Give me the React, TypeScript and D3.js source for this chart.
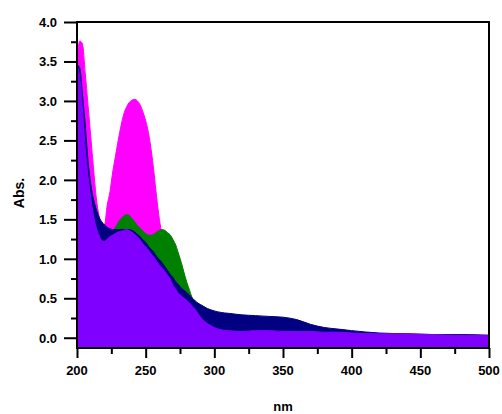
import React, { useEffect } from "react";
import * as d3 from "d3";

// wavelength grid (nm)
const wavelengths = [
  200, 202, 204, 206, 208, 210, 212, 214, 216, 218, 220, 222, 224, 226, 228, 230,
  232, 234, 236, 238, 240, 242, 244, 246, 248, 250, 252, 254, 256, 258, 260, 262,
  264, 266, 268, 270, 272, 274, 276, 278, 280, 282, 284, 286, 288, 290, 295, 300,
  305, 310, 320, 330, 340, 350, 360, 370, 380, 390, 400, 420, 440, 460, 480, 500,
];

const magentaAbs = [
  3.52, 3.76, 3.72, 3.35, 2.95, 2.55, 2.15, 1.78, 1.55, 1.45, 1.43, 1.68, 1.85, 2.1, 2.3, 2.5,
  2.68, 2.83, 2.92, 2.98, 3.01, 3.02, 3.0, 2.95, 2.86, 2.75, 2.6, 2.38, 2.1, 1.78, 1.5, 1.3,
  1.15, 1.0, 0.85, 0.72, 0.62, 0.54, 0.48, 0.42, 0.38, 0.34, 0.31, 0.28, 0.26, 0.24, 0.21, 0.18,
  0.16, 0.14, 0.12, 0.1, 0.09, 0.08, 0.07, 0.07, 0.06, 0.06, 0.05, 0.04, 0.04, 0.03, 0.03, 0.03,
];

const greenAbs = [
  2.9, 2.8, 2.55, 2.2, 1.9, 1.68, 1.5, 1.4, 1.33, 1.3, 1.3, 1.31, 1.33, 1.36, 1.4, 1.46,
  1.51, 1.54, 1.56, 1.55, 1.51, 1.47, 1.42, 1.39, 1.35, 1.32, 1.3, 1.3, 1.31, 1.34, 1.36, 1.37,
  1.36, 1.33, 1.3, 1.24, 1.17, 1.06, 0.95, 0.82, 0.7, 0.6, 0.5, 0.44, 0.4, 0.37, 0.32, 0.28,
  0.25, 0.22, 0.18, 0.15, 0.13, 0.12, 0.11, 0.1, 0.09, 0.08, 0.07, 0.05, 0.04, 0.04, 0.03, 0.03,
];

const navyAbs = [
  3.46, 3.42, 3.08, 2.7, 2.25, 1.95, 1.76, 1.63, 1.53, 1.47, 1.43, 1.4, 1.38, 1.37, 1.37, 1.37,
  1.37, 1.37, 1.37, 1.37, 1.36, 1.34, 1.31, 1.28, 1.24, 1.21, 1.16, 1.12, 1.08, 1.03, 0.99, 0.95,
  0.9, 0.85, 0.8, 0.76, 0.71, 0.67, 0.63, 0.6, 0.57, 0.54, 0.5, 0.47, 0.44, 0.42, 0.37, 0.34,
  0.32, 0.31, 0.29, 0.28, 0.27, 0.26, 0.23, 0.17, 0.13, 0.11, 0.09, 0.06, 0.05, 0.04, 0.04, 0.03,
];

const purpleAbs = [
  3.45, 3.3, 2.9, 2.4, 2.05, 1.78, 1.55, 1.4, 1.3, 1.23, 1.22, 1.25, 1.28, 1.3, 1.32, 1.34,
  1.35, 1.36, 1.37, 1.36, 1.34, 1.31, 1.28, 1.24, 1.19, 1.15, 1.11, 1.06, 1.02, 0.97, 0.92, 0.88,
  0.84, 0.79, 0.74, 0.66, 0.61, 0.56, 0.53, 0.5, 0.47, 0.44, 0.4, 0.36, 0.31, 0.26, 0.18, 0.13,
  0.1, 0.09, 0.08, 0.09, 0.09, 0.08, 0.08, 0.08, 0.07, 0.07, 0.06, 0.05, 0.05, 0.04, 0.03, 0.03,
];

// back to front
const series = [
  { name: "magenta", color: "#ff00ff", values: magentaAbs },
  { name: "green", color: "#008000", values: greenAbs },
  { name: "navy", color: "#000080", values: navyAbs },
  { name: "purple", color: "#8000ff", values: purpleAbs },
];

const xTicks = [200, 250, 300, 350, 400, 450, 500];
const yTicks = [0, 0.5, 1.0, 1.5, 2.0, 2.5, 3.0, 3.5, 4.0];

const App = () => {
  useEffect(() => {
    d3.select("#abs-chart svg").remove();

    const svg = d3
      .select("#abs-chart")
      .append("svg")
      .attr("width", 502)
      .attr("height", 414)
      .style("display", "block")
      .style("font-family", "'Liberation Sans', Arial, sans-serif");

    const left = 77;
    const right = 489;
    const top = 22;
    const bottom = 348;

    const xScale = d3.scaleLinear().domain([200, 500]).range([left, right]);
    const yScale = d3.scaleLinear().domain([-0.13, 4.0]).range([bottom, top]);

    const area = d3
      .area<number>()
      .x((d, i) => xScale(wavelengths[i]))
      .y0(bottom)
      .y1((d) => yScale(d))
      .curve(d3.curveMonotoneX);

    // filled spectra
    series.forEach((s) => {
      svg
        .append("path")
        .datum(s.values)
        .attr("fill", s.color)
        .attr("stroke", s.color)
        .attr("stroke-width", 1)
        .attr("d", area);
    });

    // x axis (major + minor ticks)
    const xAxis = svg
      .append("g")
      .attr("transform", `translate(0, ${bottom})`)
      .call(
        d3
          .axisBottom(xScale)
          .tickValues(d3.range(200, 501, 25))
          .tickSize(6)
          .tickFormat(() => "")
      );
    xAxis.selectAll(".tick line").filter((d: any) => d % 50 === 0).attr("y2", 10);
    xAxis.select(".domain").remove();

    svg
      .selectAll(".x-label")
      .data(xTicks)
      .enter()
      .append("text")
      .attr("class", "x-label")
      .attr("x", (d) => xScale(d))
      .attr("y", 375)
      .attr("text-anchor", "middle")
      .style("font-size", "13px")
      .style("font-weight", "bold")
      .text((d) => d);

    // y axis (major + minor ticks)
    const yAxis = svg
      .append("g")
      .attr("transform", `translate(${left}, 0)`)
      .call(
        d3
          .axisLeft(yScale)
          .tickValues(d3.range(0, 4.01, 0.25))
          .tickSize(6)
          .tickFormat(() => "")
      );
    yAxis
      .selectAll(".tick line")
      .filter((d: any) => Math.abs((d * 2) % 1) < 1e-6)
      .attr("x2", -13);
    yAxis.select(".domain").remove();

    svg
      .selectAll(".y-label")
      .data(yTicks)
      .enter()
      .append("text")
      .attr("class", "y-label")
      .attr("x", 57)
      .attr("y", (d) => yScale(d) + 5)
      .attr("text-anchor", "end")
      .style("font-size", "13px")
      .style("font-weight", "bold")
      .text((d) => d.toFixed(1));

    svg.selectAll(".tick line").attr("stroke", "#000").attr("stroke-width", 2);

    // frame
    svg
      .append("rect")
      .attr("x", left)
      .attr("y", top)
      .attr("width", right - left)
      .attr("height", bottom - top)
      .attr("fill", "none")
      .attr("stroke", "#000")
      .attr("stroke-width", 2);

    // axis titles
    svg
      .append("text")
      .attr("transform", `translate(24, 193) rotate(-90)`)
      .attr("text-anchor", "middle")
      .style("font-size", "14px")
      .style("font-weight", "bold")
      .text("Abs.");

    svg
      .append("text")
      .attr("x", (left + right) / 2)
      .attr("y", 411)
      .attr("text-anchor", "middle")
      .style("font-size", "13px")
      .style("font-weight", "bold")
      .text("nm");
  }, []);

  return (
    <div
      id="abs-chart"
      style={{ position: "absolute", left: 0, top: 0, background: "#fff" }}
    ></div>
  );
};

export default App;
